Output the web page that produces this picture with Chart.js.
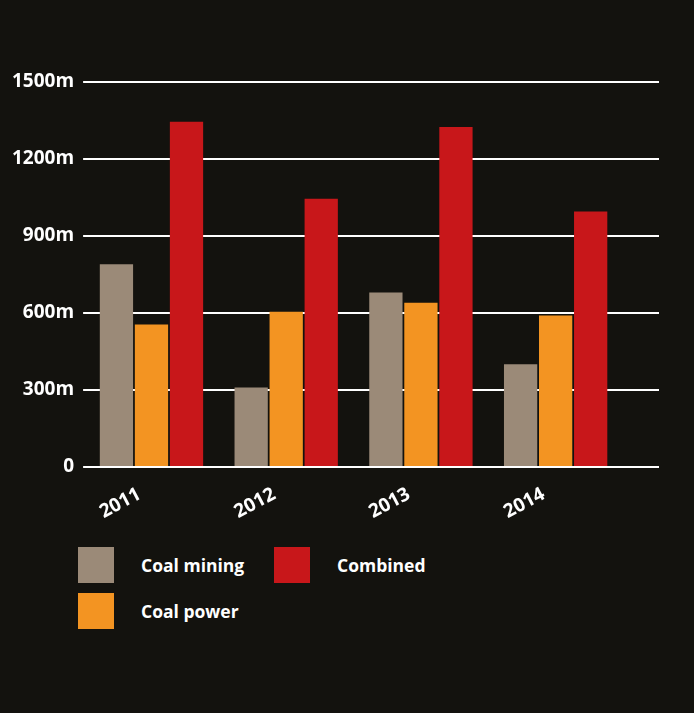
<!DOCTYPE html>
<html>
<head>
<meta charset="utf-8">
<script src="https://cdn.jsdelivr.net/npm/chart.js@4/dist/chart.umd.min.js"></script>
<style>
  body { margin: 0; background: #13120e; }
  #wrap { position: relative; width: 694px; height: 713px; background: #13120e; font-family: "Open Sans", sans-serif; }
  #box { position: absolute; left: 0; top: 0; width: 694px; height: 530px; }
  #legend { position: absolute; left: 78px; top: 547px; display: grid; grid-template-columns: 196px 196px; grid-template-rows: 36px 36px; grid-auto-flow: column; row-gap: 10px; }
  .item { display: flex; align-items: center; color: #fff; font-weight: 700; font-size: 17.5px; }
  .sw { width: 36px; height: 36px; margin-right: 27px; }
</style>
</head>
<body>
<div id="wrap">
  <div id="box"><canvas id="c"></canvas></div>
  <div id="legend"></div>
</div>
<script>
const years = ['2011', '2012', '2013', '2014'];
const coalMining = [790, 310, 680, 400];
const coalPower = [555, 605, 640, 590];
const combined = [1345, 1045, 1325, 995];
const seriesNames = ['Coal mining', 'Coal power', 'Combined'];
const seriesColors = ['#9b8a78', '#f39422', '#c8171a'];
const yTicks = [0, 300, 600, 900, 1200, 1500];

// horizontal rules run past the last bar group, so draw them by hand
function rule(chart, v) {
  const { ctx, chartArea, scales } = chart;
  const y = Math.round(scales.y.getPixelForValue(v));
  ctx.save();
  ctx.strokeStyle = '#ffffff';
  ctx.lineWidth = 2;
  ctx.beginPath();
  ctx.moveTo(chartArea.left - 1, y);
  ctx.lineTo(chartArea.right + 36, y);
  ctx.stroke();
  ctx.restore();
}
const rules = {
  id: 'rules',
  beforeDatasetsDraw(chart) {
    yTicks.forEach(v => { if (v !== 0) rule(chart, v); });
  },
  afterDatasetsDraw(chart) {
    rule(chart, 0);
  }
};

const values = [coalMining, coalPower, combined];
new Chart(document.getElementById('c'), {
  type: 'bar',
  data: {
    labels: years,
    datasets: values.map((d, i) => ({
      label: seriesNames[i],
      data: d,
      backgroundColor: seriesColors[i],
      borderWidth: 0,
      barPercentage: 0.95,
      categoryPercentage: 0.78
    }))
  },
  options: {
    responsive: true,
    maintainAspectRatio: false,
    animation: false,
    layout: { padding: { top: 82, left: 2, right: 71, bottom: 3 } },
    plugins: { legend: { display: false }, tooltip: { enabled: false } },
    scales: {
      x: {
        grid: { display: false, drawTicks: false },
        border: { display: false },
        ticks: {
          color: '#ffffff',
          font: { family: 'Open Sans', weight: 'bold', size: 19 },
          maxRotation: 28,
          minRotation: 28,
          padding: 16,
          labelOffset: -12
        },
        afterFit(scale) { scale.height = 60; }
      },
      y: {
        min: 0,
        max: 1500,
        afterBuildTicks(scale) { scale.ticks = yTicks.map(v => ({ value: v })); },
        grid: { display: false, drawTicks: false },
        border: { display: false },
        ticks: {
          color: '#ffffff',
          font: { family: 'Open Sans', weight: 'bold', size: 19 },
          padding: 10,
          callback: v => v === 0 ? '0' : v + 'm'
        }
      }
    }
  },
  plugins: [rules]
});

// legend laid out in two columns like the original
const legend = document.getElementById('legend');
[0, 1, 2].forEach(i => {
  const el = document.createElement('div');
  el.className = 'item';
  el.innerHTML = '<span class="sw" style="background:' + seriesColors[i] + '"></span>' + seriesNames[i];
  legend.appendChild(el);
});
</script>
</body>
</html>
